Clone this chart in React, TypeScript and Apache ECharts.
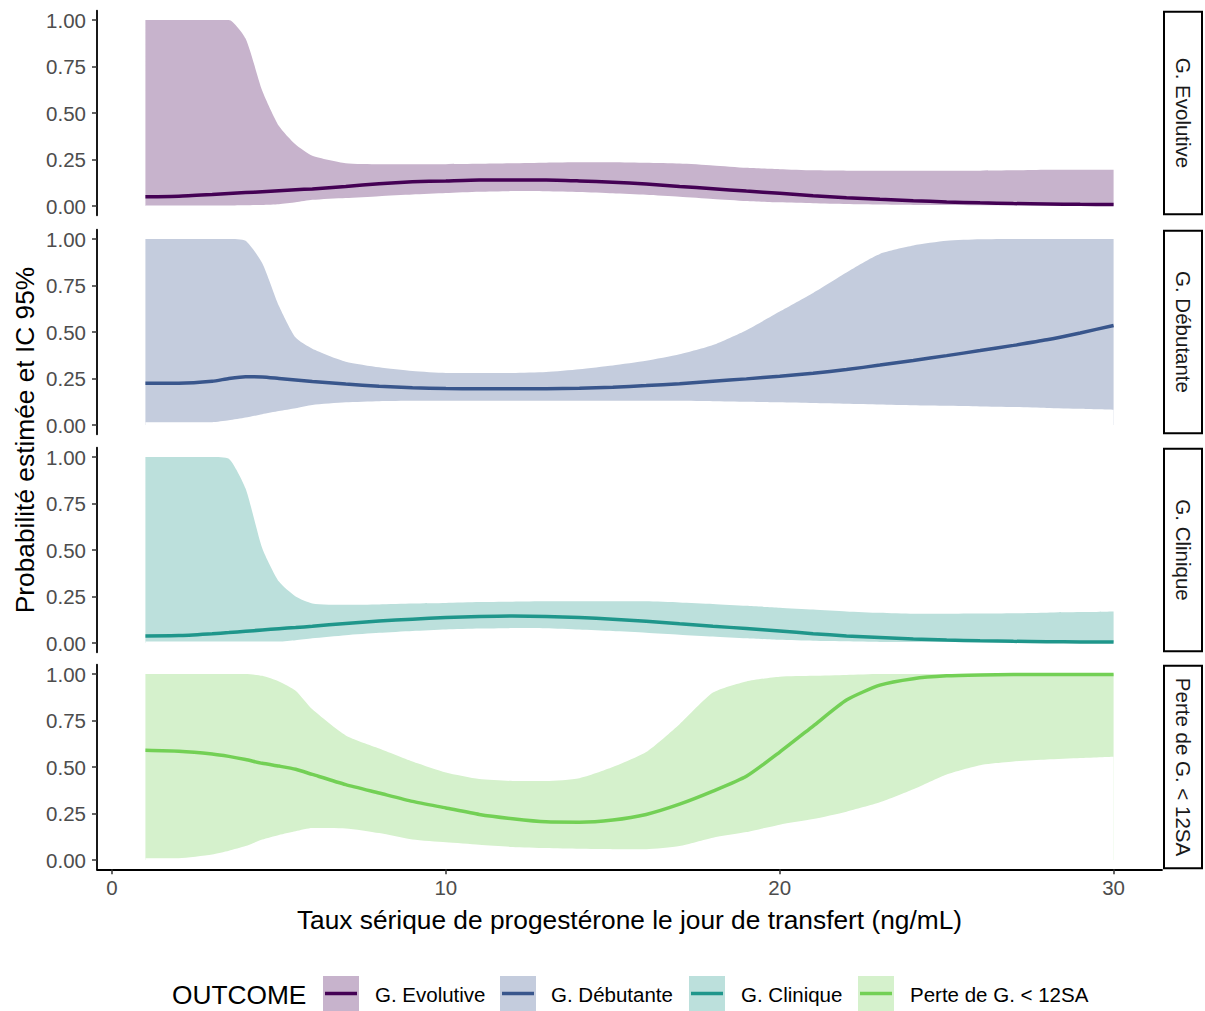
import React, { useEffect, useRef } from "react";
import * as echarts from "echarts";

// x grid (ng/mL)
const X = [1, 2, 3, 3.5, 4, 4.5, 5, 5.5, 6, 7, 8, 9, 10, 11, 12, 13, 14, 15, 16, 17, 18, 19, 20, 21, 22, 23, 24, 25, 26, 27, 28, 29, 30];

// G. Evolutive
const evoUpper = [1, 1, 1, 1, 0.9, 0.62, 0.43, 0.33, 0.27, 0.23, 0.225, 0.225, 0.225, 0.227, 0.23, 0.233, 0.235, 0.235, 0.232, 0.228, 0.218, 0.205, 0.198, 0.192, 0.19, 0.19, 0.19, 0.19, 0.19, 0.192, 0.195, 0.195, 0.195];
const evoLine = [0.05, 0.053, 0.062, 0.067, 0.072, 0.077, 0.082, 0.087, 0.092, 0.105, 0.12, 0.13, 0.135, 0.14, 0.14, 0.14, 0.135, 0.128, 0.118, 0.105, 0.093, 0.08, 0.068, 0.055, 0.045, 0.036, 0.028, 0.022, 0.017, 0.013, 0.011, 0.009, 0.008];
const evoLower = [0.003, 0.003, 0.003, 0.003, 0.004, 0.006, 0.01, 0.02, 0.033, 0.043, 0.053, 0.062, 0.07, 0.077, 0.08, 0.079, 0.075, 0.068, 0.06, 0.05, 0.038, 0.027, 0.02, 0.015, 0.011, 0.008, 0.006, 0.005, 0.004, 0.004, 0.004, 0.004, 0.004];

// G. Débutante
const debUpper = [1, 1, 1, 1, 0.99, 0.87, 0.64, 0.47, 0.41, 0.34, 0.31, 0.29, 0.28, 0.28, 0.28, 0.285, 0.3, 0.32, 0.345, 0.38, 0.43, 0.51, 0.61, 0.71, 0.82, 0.92, 0.965, 0.99, 0.998, 1, 1, 1, 1];
const debLine = [0.225, 0.225, 0.235, 0.25, 0.26, 0.258, 0.25, 0.242, 0.234, 0.22, 0.208, 0.2, 0.196, 0.195, 0.195, 0.195, 0.197, 0.203, 0.212, 0.222, 0.235, 0.248, 0.262, 0.278, 0.298, 0.322, 0.347, 0.373, 0.4, 0.428, 0.458, 0.495, 0.535];
const debLower = [0.015, 0.015, 0.015, 0.025, 0.04, 0.058, 0.075, 0.09, 0.108, 0.122, 0.128, 0.13, 0.13, 0.13, 0.13, 0.13, 0.13, 0.13, 0.13, 0.13, 0.128, 0.125, 0.122, 0.118, 0.114, 0.11, 0.106, 0.103, 0.1, 0.097, 0.092, 0.087, 0.082];

// G. Clinique
const cliUpper = [1, 1, 1, 0.99, 0.83, 0.51, 0.33, 0.25, 0.213, 0.205, 0.207, 0.212, 0.215, 0.22, 0.222, 0.224, 0.225, 0.225, 0.224, 0.218, 0.21, 0.2, 0.19, 0.18, 0.17, 0.162, 0.157, 0.157, 0.158, 0.16, 0.163, 0.166, 0.17];
const cliLine = [0.038, 0.04, 0.05, 0.056, 0.063, 0.07, 0.077, 0.083, 0.09, 0.105, 0.118, 0.128, 0.137, 0.142, 0.145, 0.143, 0.137, 0.128, 0.117, 0.103, 0.09, 0.078, 0.065, 0.05, 0.038, 0.03, 0.022, 0.016, 0.012, 0.009, 0.007, 0.006, 0.005];
const cliLower = [0.008, 0.008, 0.008, 0.008, 0.008, 0.008, 0.008, 0.015, 0.025, 0.042, 0.055, 0.065, 0.073, 0.078, 0.08, 0.079, 0.072, 0.064, 0.055, 0.045, 0.035, 0.025, 0.017, 0.012, 0.009, 0.006, 0.006, 0.006, 0.006, 0.006, 0.006, 0.006, 0.006];

// Perte de G. < 12SA
const perUpper = [1, 1, 1, 1, 1, 0.99, 0.96, 0.91, 0.81, 0.67, 0.6, 0.53, 0.47, 0.435, 0.425, 0.425, 0.44, 0.5, 0.58, 0.73, 0.9, 0.96, 0.985, 0.99, 0.995, 1, 1, 1, 1, 1, 1, 1, 1];
const perLine = [0.59, 0.585, 0.57, 0.557, 0.54, 0.52, 0.505, 0.488, 0.46, 0.405, 0.36, 0.315, 0.28, 0.245, 0.222, 0.205, 0.203, 0.215, 0.245, 0.3, 0.37, 0.45, 0.58, 0.72, 0.86, 0.94, 0.975, 0.99, 0.995, 0.997, 0.997, 0.997, 0.997];
const perLower = [0.01, 0.01, 0.03, 0.05, 0.075, 0.11, 0.135, 0.155, 0.172, 0.17, 0.145, 0.11, 0.095, 0.082, 0.07, 0.064, 0.06, 0.058, 0.058, 0.075, 0.12, 0.15, 0.19, 0.22, 0.26, 0.31, 0.38, 0.46, 0.51, 0.53, 0.54, 0.548, 0.555];

const OUTCOMES = ["G. Evolutive", "G. Débutante", "G. Clinique", "Perte de G. < 12SA"];
const COLORS = ["#440154", "#39568C", "#1F968B", "#73D055"];
const UPPERS = [evoUpper, debUpper, cliUpper, perUpper];
const LINES = [evoLine, debLine, cliLine, perLine];
const LOWERS = [evoLower, debLower, cliLower, perLower];

const X_TICKS = [0, 10, 20, 30];
const Y_TICKS = [0, 0.25, 0.5, 0.75, 1];
const X_TITLE = "Taux sérique de progestérone le jour de transfert (ng/mL)";
const Y_TITLE = "Probabilité estimée et IC 95%";
const LEGEND_TITLE = "OUTCOME";

const FONT = "'Liberation Sans', Arial, sans-serif";
const TOPS = [10.7, 229.7, 447.7, 664.7];
const PH = 204.6;
const LEFT = 97;
const RIGHT = 1162;
const SMALL = 20.5;
const BIG = 26.3;
const ALPHA = 0.3;
const SMOOTH = 0.2;

// colour blended with alpha over white (ribbon look)
function tint(hex: string, a: number) {
  const n = parseInt(hex.slice(1), 16);
  const c = [(n >> 16) & 255, (n >> 8) & 255, n & 255].map((v) => Math.round(v * a + 255 * (1 - a)));
  return `rgb(${c[0]},${c[1]},${c[2]})`;
}

export default function App() {
  const ref = useRef<HTMLDivElement>(null);
  useEffect(() => {
    if (!ref.current) return;
    const chart = echarts.init(ref.current, null, { renderer: "svg" });
    const grids = TOPS.map((t) => ({ left: LEFT, top: t, width: RIGHT - LEFT, height: PH }));
    const xAxes = TOPS.map((_, i) => ({
      type: "value",
      gridIndex: i,
      min: -0.45,
      max: 31.45,
      z: 5,
      axisLine: { show: i === 3, onZero: false, lineStyle: { color: "#000", width: 1.8 } },
      axisTick: { show: i === 3, customValues: X_TICKS, length: 5, lineStyle: { color: "#333", width: 1.5 } },
      axisLabel: { show: i === 3, customValues: X_TICKS, color: "#4d4d4d", fontSize: SMALL, fontFamily: FONT, margin: 8 },
      splitLine: { show: false },
    }));
    const yAxes = TOPS.map((_, i) => ({
      type: "value",
      gridIndex: i,
      min: -0.05,
      max: 1.05,
      z: 5,
      axisLine: { show: true, onZero: false, lineStyle: { color: "#000", width: 1.8 } },
      axisTick: { show: true, customValues: Y_TICKS, length: 5, lineStyle: { color: "#333", width: 1.5 } },
      axisLabel: {
        customValues: Y_TICKS,
        formatter: (v: number) => v.toFixed(2),
        color: "#4d4d4d",
        fontSize: SMALL,
        fontFamily: FONT,
        margin: 11,
      },
      splitLine: { show: false },
    }));
    const series: any[] = [];
    OUTCOMES.forEach((name, i) => {
      const up = UPPERS[i];
      const lo = LOWERS[i];
      // upper bound area (ribbon colour) filled down to 0
      series.push({
        type: "line",
        name: name + " IC haut",
        xAxisIndex: i,
        yAxisIndex: i,
        silent: true,
        showSymbol: false,
        smooth: SMOOTH,
        data: X.map((x, j) => [x, up[j]]),
        lineStyle: { width: 0, opacity: 0 },
        areaStyle: { color: tint(COLORS[i], ALPHA), opacity: 1 },
        z: 1,
      });
      // lower bound area (white) covering the part below the ribbon
      series.push({
        type: "line",
        name: name + " IC bas",
        xAxisIndex: i,
        yAxisIndex: i,
        silent: true,
        showSymbol: false,
        smooth: SMOOTH,
        data: X.map((x, j) => [x, lo[j]]),
        lineStyle: { width: 0, opacity: 0 },
        areaStyle: { color: "#ffffff", opacity: 1 },
        z: 2,
      });
      series.push({
        type: "line",
        name,
        xAxisIndex: i,
        yAxisIndex: i,
        silent: true,
        showSymbol: false,
        smooth: SMOOTH,
        data: X.map((x, j) => [x, LINES[i][j]]),
        lineStyle: { color: COLORS[i], width: 3.5 },
        itemStyle: { color: COLORS[i] },
        z: 3,
      });
    });

    const graphics: any[] = [];
    TOPS.forEach((t, i) => {
      graphics.push({
        type: "rect",
        shape: { x: 1164, y: t + 1, width: 38, height: PH - 2 },
        style: { fill: "#fff", stroke: "#000", lineWidth: 2 },
      });
      graphics.push({
        type: "text",
        x: 1183,
        y: t + PH / 2,
        rotation: -Math.PI / 2,
        style: { text: OUTCOMES[i], fontSize: SMALL, fontFamily: FONT, fill: "#1a1a1a", align: "center", verticalAlign: "middle" },
      });
    });
    graphics.push({
      type: "text",
      x: (LEFT + RIGHT) / 2,
      y: 920,
      style: { text: X_TITLE, fontSize: BIG, fontFamily: FONT, fill: "#000", align: "center", verticalAlign: "middle" },
    });
    graphics.push({
      type: "text",
      x: 25,
      y: 440,
      rotation: Math.PI / 2,
      style: { text: Y_TITLE, fontSize: BIG, fontFamily: FONT, fill: "#000", align: "center", verticalAlign: "middle" },
    });
    graphics.push({
      type: "text",
      x: 172,
      y: 995,
      style: { text: LEGEND_TITLE, fontSize: BIG, fontFamily: FONT, fill: "#000", align: "left", verticalAlign: "middle" },
    });
    const keyX = [323, 500, 689, 858];
    const labX = [375, 551, 741, 910];
    OUTCOMES.forEach((name, i) => {
      graphics.push({
        type: "rect",
        shape: { x: keyX[i], y: 976, width: 36, height: 35 },
        style: { fill: tint(COLORS[i], ALPHA) },
      });
      graphics.push({
        type: "line",
        shape: { x1: keyX[i] + 2, y1: 993.5, x2: keyX[i] + 34, y2: 993.5 },
        style: { stroke: COLORS[i], lineWidth: 3.5 },
      });
      graphics.push({
        type: "text",
        x: labX[i],
        y: 994,
        style: { text: name, fontSize: SMALL, fontFamily: FONT, fill: "#000", align: "left", verticalAlign: "middle" },
      });
    });

    chart.setOption({
      animation: false,
      backgroundColor: "#fff",
      grid: grids,
      xAxis: xAxes,
      yAxis: yAxes,
      series,
      graphic: graphics,
    });
    return () => chart.dispose();
  }, []);
  return <div ref={ref} style={{ position: "absolute", left: 0, top: 0, width: 1205, height: 1011 }} />;
}
